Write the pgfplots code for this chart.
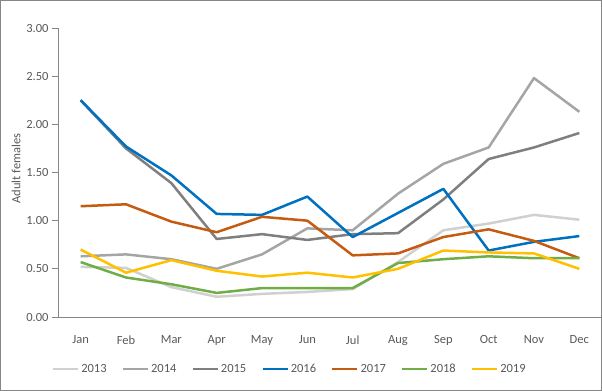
\documentclass[border=0pt]{standalone}
\usepackage{pgfplots}
\pgfplotsset{compat=1.18}
\usepackage{fontspec}
\setmainfont{Carlito}
\definecolor{c13}{HTML}{D0D0D0}
\definecolor{c14}{HTML}{A5A5A5}
\definecolor{c15}{HTML}{7F7F7F}
\definecolor{c16}{HTML}{0070C0}
\definecolor{c17}{HTML}{C55A11}
\definecolor{c18}{HTML}{70AD47}
\definecolor{c19}{HTML}{FFC000}
\definecolor{txt}{HTML}{595959}
\definecolor{axc}{HTML}{868686}
\begin{document}
\begin{tikzpicture}
\path[use as bounding box] (0,0) rectangle (602bp,391bp);
\begin{axis}[
  at={(58bp,74bp)}, anchor=south west,
  scale only axis, width=544bp, height=289bp,
  xmin=-0.5, xmax=11.5, ymin=0, ymax=3,
  axis lines*=left,
  axis line style={axc, line width=0.75bp, -},
  xtick={0,...,11},
  xticklabels={Jan,Feb,Mar,Apr,May,Jun,Jul,Aug,Sep,Oct,Nov,Dec},
  xtick style={draw=none},
  ytick={0,0.5,...,3},
  ytick style={axc, line width=0.75bp},
  tick align=outside,
  major tick length=6bp,
  yticklabel style={/pgf/number format/.cd, fixed, fixed zerofill, precision=2},
  /pgf/number format/assume math mode=true,
  tick label style={font=\fontsize{12.5bp}{14bp}\selectfont, text=txt},
  xticklabel style={yshift=-9bp},
  ylabel={Adult females},
  every axis y label/.style={at={(-42bp,0.5*289bp+4bp)}, rotate=90, anchor=center,
     font=\fontsize{12.5bp}{14bp}\selectfont, text=txt},
  clip=false,
  legend style={at={(0.425,-0.18)}, anchor=center, draw=none, fill=none,
    legend columns=-1, font=\fontsize{12.5bp}{14bp}\selectfont, text=txt,
    /tikz/every odd column/.style={column sep=1bp},
    /tikz/every even column/.style={column sep=14bp},
    inner sep=0pt, nodes={inner sep=1bp}},
  legend image code/.code={\draw[#1, line width=2.5bp] (0bp,0bp) -- (25bp,0bp);},
  every axis plot/.append style={line width=2.5bp, line join=round, mark=none},
]
\addplot[c13] coordinates {(0,0.52)(1,0.51)(2,0.31)(3,0.21)(4,0.24)(5,0.26)(6,0.29)(7,0.57)(8,0.90)(9,0.97)(10,1.06)(11,1.01)};
\addlegendentry{2013}
\addplot[c14] coordinates {(0,0.63)(1,0.65)(2,0.60)(3,0.50)(4,0.65)(5,0.92)(6,0.90)(7,1.28)(8,1.59)(9,1.76)(10,2.48)(11,2.13)};
\addlegendentry{2014}
\addplot[c15] coordinates {(0,2.25)(1,1.75)(2,1.39)(3,0.81)(4,0.86)(5,0.80)(6,0.86)(7,0.87)(8,1.22)(9,1.64)(10,1.76)(11,1.91)};
\addlegendentry{2015}
\addplot[c16] coordinates {(0,2.25)(1,1.77)(2,1.47)(3,1.07)(4,1.06)(5,1.25)(6,0.83)(7,1.08)(8,1.33)(9,0.69)(10,0.78)(11,0.84)};
\addlegendentry{2016}
\addplot[c17] coordinates {(0,1.15)(1,1.17)(2,0.99)(3,0.88)(4,1.04)(5,1.00)(6,0.64)(7,0.66)(8,0.83)(9,0.91)(10,0.79)(11,0.61)};
\addlegendentry{2017}
\addplot[c18] coordinates {(0,0.57)(1,0.41)(2,0.34)(3,0.25)(4,0.30)(5,0.30)(6,0.30)(7,0.56)(8,0.60)(9,0.63)(10,0.61)(11,0.61)};
\addlegendentry{2018}
\addplot[c19] coordinates {(0,0.70)(1,0.46)(2,0.59)(3,0.48)(4,0.42)(5,0.46)(6,0.41)(7,0.50)(8,0.69)(9,0.67)(10,0.66)(11,0.50)};
\addlegendentry{2019}
\end{axis}
\draw[axc, line width=1bp] (0.5bp,0.5bp) rectangle (601.5bp,390.5bp);
\end{tikzpicture}
\end{document}
